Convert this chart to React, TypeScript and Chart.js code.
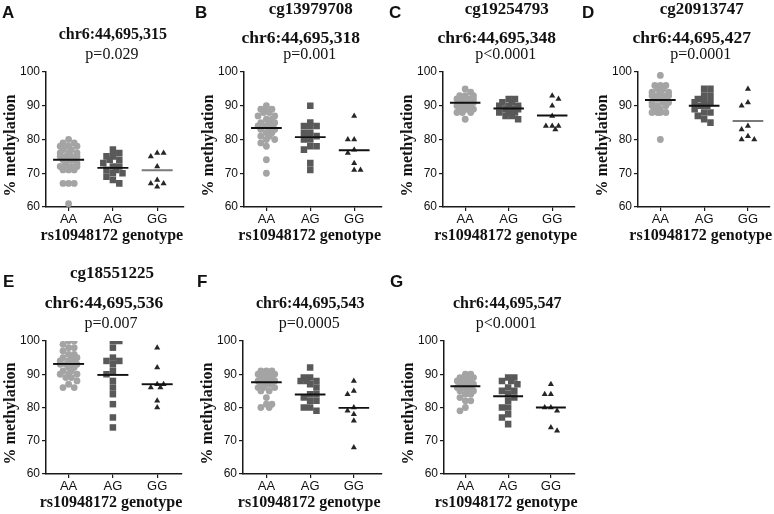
import React, { useEffect, useRef } from 'react';
import { Chart, registerables } from 'chart.js';

Chart.register(...registerables);

// ---------- data ----------
const genotypes = ['AA', 'AG', 'GG'];
const panelLetters = ['A', 'B', 'C', 'D', 'E', 'F', 'G'];
const probeIds = ['', 'cg13979708', 'cg19254793', 'cg20913747', 'cg18551225', '', ''];
const sitePositions = [
  'chr6:44,695,315', 'chr6:44,695,318', 'chr6:44,695,348', 'chr6:44,695,427',
  'chr6:44,695,536', 'chr6:44,695,543', 'chr6:44,695,547',
];
const pValues = ['p=0.029', 'p=0.001', 'p<0.0001', 'p=0.0001', 'p=0.007', 'p=0.0005', 'p<0.0001'];
const yAxisTitle = '% methylation';
const xAxisTitle = 'rs10948172 genotype';
const yMin = 60;
const yMax = 100;
const yStep = 10;

const A_AA = [80, 79, 79, 78, 78, 78, 78, 77, 77, 76, 76, 76, 75, 75, 75, 75, 74, 74, 74, 74, 73, 73, 72, 72, 72, 72, 71, 71, 71, 67, 67, 67, 61];
const A_AG = [77, 76, 75, 75, 74, 74, 73, 72, 72, 71, 71, 70, 70, 69, 68, 67];
const A_GG = [76, 76, 75, 72, 68, 67, 67, 66];
const A_center = [74.0, 71.6, 70.9];

const B_AA = [90, 89, 89, 89, 88, 88, 87, 87, 86, 86, 85, 85, 85, 84, 84, 84, 84, 83, 83, 83, 82, 82, 81, 81, 80, 80, 79, 78, 74, 70];
const B_AG = [90, 85, 84, 84, 84, 82, 82, 81, 80, 80, 78, 78, 77, 73, 71];
const B_GG = [87, 80, 80, 77, 76, 73, 71, 71];
const B_center = [83.4, 80.7, 76.8];

const C_AA = [95, 94, 93, 93, 93, 92, 92, 92, 92, 92, 91, 91, 91, 91, 91, 91, 90, 90, 90, 90, 90, 90, 89, 89, 89, 89, 88, 88, 88, 86];
const C_AG = [92, 92, 91, 91, 90, 90, 90, 89, 89, 89, 88, 88, 88, 87, 87, 86];
const C_GG = [93, 92, 90, 87, 84, 84, 84, 83];
const C_center = [90.9, 89.2, 87.1];

const D_AA = [99, 96, 96, 96, 95, 95, 94, 94, 94, 93, 93, 93, 93, 92, 92, 92, 92, 91, 91, 91, 90, 90, 90, 89, 89, 88, 88, 88, 88, 80];
const D_AG = [95, 95, 93, 93, 92, 91, 91, 91, 90, 90, 89, 88, 88, 87, 86, 85];
const D_GG = [95, 91, 90, 84, 83, 81, 80, 80];
const D_center = [91.7, 90.0, 85.5];

const E_AA = [100, 100, 99, 98, 98, 97, 96, 96, 95, 95, 95, 94, 94, 94, 93, 93, 93, 93, 92, 92, 91, 91, 90, 90, 90, 89, 89, 88, 87, 86, 86];
const E_AG = [100, 100, 98, 95, 94, 94, 93, 91, 90, 88, 86, 84, 81, 77, 74];
const E_GG = [98, 92, 87, 87, 86, 86, 82, 80];
const E_center = [93.1, 89.8, 87.0];

const F_AA = [91, 91, 91, 90, 90, 90, 90, 89, 89, 89, 89, 88, 88, 88, 88, 88, 87, 87, 87, 87, 86, 86, 86, 85, 85, 83, 81, 81, 80, 80];
const F_AG = [92, 89, 89, 88, 88, 88, 87, 86, 84, 84, 83, 82, 82, 80, 80, 79];
const F_GG = [88, 85, 84, 80, 79, 78, 76, 68];
const F_center = [87.6, 83.9, 79.9];

const G_AA = [90, 90, 89, 89, 89, 89, 88, 88, 88, 88, 87, 87, 87, 87, 87, 86, 86, 86, 86, 85, 85, 85, 84, 84, 83, 82, 82, 80, 79];
const G_AG = [89, 89, 88, 88, 87, 86, 85, 85, 84, 83, 82, 80, 80, 78, 77, 75];
const G_GG = [87, 84, 84, 80, 80, 79, 74, 73];
const G_center = [86.4, 83.4, 80.0];

const panelGroups = [
  [A_AA, A_AG, A_GG], [B_AA, B_AG, B_GG], [C_AA, C_AG, C_GG], [D_AA, D_AG, D_GG],
  [E_AA, E_AG, E_GG], [F_AA, F_AG, F_GG], [G_AA, G_AG, G_GG],
];
const panelCenters = [A_center, B_center, C_center, D_center, E_center, F_center, G_center];

// ---------- layout / style ----------
const PX_PER_UNIT = 44.3;
const PY_PER_UNIT = 3.35;
const LAYOUT = [
  { cellX: 0, cellY: 0, w: 193, h: 257, left: 46, top: 72, bottom: 207, xmin: -0.51, xmax: 2.6, letterX: 2, titleSize: 16, cgDy: 58, chrDy: 33, chrDx: 2 },
  { cellX: 193, cellY: 0, w: 193, h: 257, left: 244, top: 72, bottom: 207, xmin: -0.51, xmax: 2.62, letterX: 195, titleSize: 17.5, cgDy: 58, chrDy: 29, chrDx: 12 },
  { cellX: 386, cellY: 0, w: 193, h: 257, left: 443, top: 72, bottom: 207, xmin: -0.51, xmax: 2.51, letterX: 389, titleSize: 17.5, cgDy: 58, chrDy: 29, chrDx: 12 },
  { cellX: 579, cellY: 0, w: 195, h: 257, left: 638, top: 72, bottom: 207, xmin: -0.51, xmax: 2.49, letterX: 582, titleSize: 17.5, cgDy: 58, chrDy: 29, chrDx: 12 },
  { cellX: 0, cellY: 257, w: 193, h: 257, left: 46, top: 341, bottom: 474, xmin: -0.51, xmax: 2.56, letterX: 3, titleSize: 17.5, cgDy: 63, chrDy: 33, chrDx: 10 },
  { cellX: 193, cellY: 257, w: 193, h: 257, left: 243, top: 341, bottom: 474, xmin: -0.535, xmax: 2.63, letterX: 197, titleSize: 16, cgDy: 62, chrDy: 33, chrDx: 2 },
  { cellX: 386, cellY: 257, w: 193, h: 257, left: 444, top: 341, bottom: 474, xmin: -0.5, xmax: 2.55, letterX: 390, titleSize: 16, cgDy: 62, chrDy: 33, chrDx: 2 },
];

const SERIF = '"Liberation Serif", "Times New Roman", serif';
const SANS = '"Liberation Sans", Arial, sans-serif';
const TEXT = '#111111';
const AXIS = '#1a1a1a';
const groupStyles = [
  { pointStyle: 'circle', radius: 3.4, color: '#a4a4a4', minDist: 5.6, maxHalf: 11 },
  { pointStyle: 'rect', radius: 4.6, color: '#595959', minDist: 6.4, maxHalf: 11 },
  { pointStyle: 'triangle', radius: 3.5, color: '#262626', minDist: 6.4, maxHalf: 7 },
];
const lineColors = [
  ['#111', '#111', '#7a7a7a'],
  ['#111', '#111', '#111'],
  ['#111', '#111', '#111'],
  ['#111', '#111', '#7a7a7a'],
  ['#111', '#111', '#111'],
  ['#111', '#111', '#111'],
  ['#111', '#111', '#111'],
];

// scatter-dot (beeswarm) layout: horizontal offsets so markers do not pile up
function swarmOffsets(values: number[], minDist: number, maxHalf: number): number[] {
  const order = values.map((_, i) => i).sort((a, b) => values[b] - values[a]);
  const placed: { x: number; y: number }[] = [];
  const out = new Array(values.length).fill(0);
  const step = minDist / 2;
  let flip = false;
  for (const i of order) {
    const y = values[i] * PY_PER_UNIT;
    const cands = [0];
    for (let k = 1; k * step <= maxHalf + 0.01; k++) {
      if (flip) cands.push(k * step, -k * step);
      else cands.push(-k * step, k * step);
    }
    flip = !flip;
    let best = 0;
    let bestD = -1;
    for (const c of cands) {
      let md = Infinity;
      for (const p of placed) {
        const d = Math.hypot(p.x - c, p.y - y);
        if (d < md) md = d;
      }
      if (md >= minDist) {
        best = c;
        bestD = Infinity;
        break;
      }
      if (md > bestD + 0.01) {
        bestD = md;
        best = c;
      }
    }
    placed.push({ x: best, y });
    out[i] = best / PX_PER_UNIT;
  }
  return out;
}

function Panel({ index }: { index: number }) {
  const ref = useRef<HTMLCanvasElement | null>(null);
  const L = LAYOUT[index];
  useEffect(() => {
    const canvas = ref.current;
    if (!canvas) return;
    const right = L.left + (L.xmax - L.xmin) * PX_PER_UNIT;
    const groups = panelGroups[index];
    const centers = panelCenters[index];

    const lineSets = centers.map((c, g) => ({
      type: 'scatter' as const,
      data: [{ x: g - 0.35, y: c }, { x: g + 0.35, y: c }],
      showLine: true,
      borderColor: lineColors[index][g],
      borderWidth: 1.9,
      pointRadius: 0,
      order: 0,
    }));
    const pointSets = groups.map((vals, g) => {
      const st = groupStyles[g];
      const offs = swarmOffsets(vals, st.minDist, st.maxHalf);
      return {
        type: 'scatter' as const,
        data: vals.map((v, i) => ({ x: g + offs[i], y: v })),
        pointStyle: st.pointStyle,
        pointRadius: st.radius,
        pointBackgroundColor: st.color,
        pointBorderColor: st.color,
        pointBorderWidth: 0,
        showLine: false,
        order: 1,
      };
    });

    const textPlugin = {
      id: 'panelText',
      afterDraw(chart: any) {
        const ctx = chart.ctx as CanvasRenderingContext2D;
        const ca = chart.chartArea;
        const cx = (ca.left + ca.right) / 2;
        ctx.save();
        ctx.fillStyle = TEXT;
        ctx.textBaseline = 'alphabetic';
        // panel letter
        ctx.textAlign = 'left';
        ctx.font = `bold 17px ${SANS}`;
        ctx.fillText(panelLetters[index], L.letterX - L.cellX, ca.top - 54);
        // titles
        ctx.textAlign = 'center';
        if (probeIds[index]) {
          ctx.font = `bold 17px ${SERIF}`;
          ctx.fillText(probeIds[index], cx - 2, ca.top - L.cgDy);
        }
        ctx.font = `bold ${L.titleSize}px ${SERIF}`;
        ctx.fillText(sitePositions[index], cx - L.chrDx, ca.top - L.chrDy);
        ctx.font = `16px ${SERIF}`;
        ctx.fillText(pValues[index], cx - 3, ca.top - 13);
        // x title
        ctx.font = `bold 16px ${SERIF}`;
        ctx.fillText(xAxisTitle, cx - 3, ca.bottom + 33);
        // y title
        ctx.translate(ca.left - 31, (ca.top + ca.bottom) / 2 + 6);
        ctx.rotate(-Math.PI / 2);
        ctx.fillText(yAxisTitle, 0, 0);
        ctx.restore();
      },
    };

    const gridOpts = {
      display: true,
      drawOnChartArea: false,
      drawTicks: true,
      tickLength: 4,
      color: AXIS,
      lineWidth: 1.2,
    };
    const borderOpts = { display: true, color: AXIS, width: 1.5 };

    const chart = new Chart(canvas, {
      type: 'scatter',
      data: { datasets: [...lineSets, ...pointSets] as any },
      options: {
        animation: false,
        responsive: false,
        maintainAspectRatio: false,
        events: [],
        layout: {
          padding: {
            left: 0,
            top: L.top - L.cellY,
            right: L.w - (right - L.cellX),
            bottom: L.h - (L.bottom - L.cellY) - 20,
          },
        },
        plugins: {
          legend: { display: false },
          tooltip: { enabled: false },
          title: { display: false },
        },
        scales: {
          x: {
            type: 'linear',
            min: L.xmin,
            max: L.xmax,
            afterBuildTicks: (s: any) => {
              s.ticks = genotypes.map((_, i) => ({ value: i }));
            },
            afterFit: (s: any) => {
              s.height = 20;
            },
            ticks: {
              callback: (v: any) => genotypes[Math.round(Number(v))] ?? '',
              font: { family: SANS, size: 13 },
              color: TEXT,
              padding: 1,
              maxRotation: 0,
              autoSkip: false,
            },
            grid: gridOpts,
            border: borderOpts,
          },
          y: {
            type: 'linear',
            min: yMin,
            max: yMax,
            afterFit: (s: any) => {
              s.width = L.left - L.cellX;
            },
            ticks: {
              stepSize: yStep,
              font: { family: SANS, size: 12 },
              color: TEXT,
              padding: 2,
            },
            grid: gridOpts,
            border: borderOpts,
          },
        },
      },
      plugins: [textPlugin],
    } as any);
    return () => chart.destroy();
  }, [index]);

  return (
    <canvas
      ref={ref}
      width={L.w}
      height={L.h}
      style={{ position: 'absolute', left: L.cellX, top: L.cellY, width: L.w, height: L.h, display: 'block' }}
    />
  );
}

export default function App() {
  return (
    <div
      style={{
        position: 'absolute',
        left: 0,
        top: 0,
        width: 774,
        height: 514,
        background: '#ffffff',
        overflow: 'hidden',
      }}
    >
      {LAYOUT.map((_, i) => (
        <Panel key={i} index={i} />
      ))}
    </div>
  );
}
